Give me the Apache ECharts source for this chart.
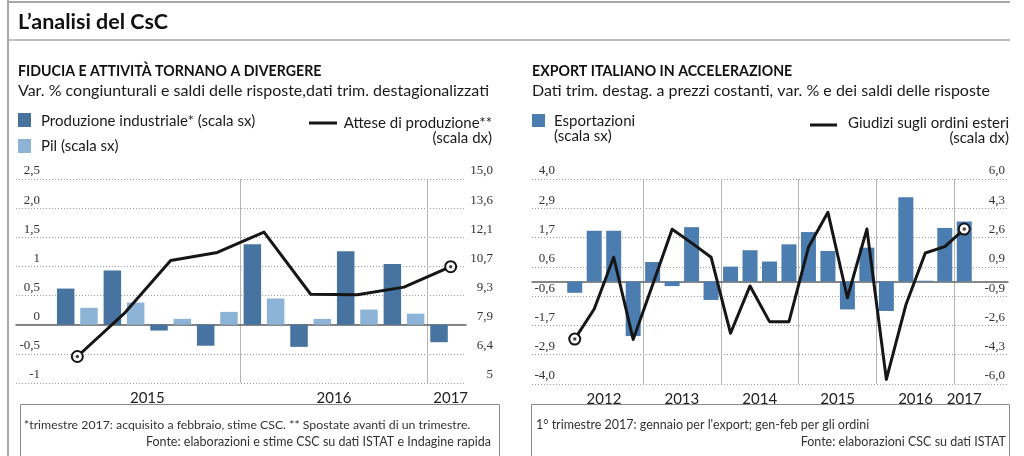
<!DOCTYPE html>
<html><head><meta charset="utf-8">
<script src="https://cdn.jsdelivr.net/npm/echarts@6/dist/echarts.min.js"></script>
<style>html,body{margin:0;padding:0;background:#fff}#c{width:1024px;height:456px}</style>
</head><body><div id="c"></div>
<script>
// ---------- DATA ----------
const leftCategories = ['T1 2015','T2 2015','T3 2015','T4 2015','T1 2016','T2 2016','T3 2016','T4 2016','T1 2017'];
const produzioneIndustriale = [0.62, 0.93, -0.10, -0.36, 1.38, -0.38, 1.26, 1.04, -0.30];
const pil = [0.29, 0.38, 0.10, 0.22, 0.45, 0.10, 0.26, 0.19, null];
const atteseProduzione = [6.3, 8.4, 11.0, 11.4, 12.4, 9.35, 9.33, 9.7, 10.7];
const leftPanelLeftTicks = ['-1','-0,5','0','0,5','1','1,5','2,0','2,5'];
const leftPanelRightTicks = ['5','6,4','7,9','9,3','10,7','12,1','13,6','15,0'];

const rightCategories = ['T1 2012','T2 2012','T3 2012','T4 2012','T1 2013','T2 2013','T3 2013','T4 2013',
  'T1 2014','T2 2014','T3 2014','T4 2014','T1 2015','T2 2015','T3 2015','T4 2015',
  'T1 2016','T2 2016','T3 2016','T4 2016','T1 2017'];
const esportazioni = [-0.44, 1.98, 1.98, -2.13, 0.76, -0.18, 2.12, -0.72, 0.58, 1.22, 0.78, 1.45,
  1.93, 1.19, -1.09, 1.32, -1.15, 3.29, 0.03, 2.09, 2.34];
const giudiziOrdiniEsteri = [-3.37, -1.61, 1.42, -3.39, -0.19, 3.06, 2.26, 1.42, -3.03, -0.26, -2.35, -2.35,
  2.0, 4.05, -0.95, 3.07, -5.73, -1.38, 1.67, 2.04, 3.07];
const rightPanelLeftTicks = ['-4,0','-2,9','-1,7','-0,6','0,6','1,7','2,9','4,0'];
const rightPanelRightTicks = ['-6,0','-4,3','-2,6','-0,9','0,9','2,6','4,3','6,0'];

// ---------- HELPERS ----------
const SANS = 'Lato';
const SERIF = '"Liberation Serif"';
const DARK = '#46739f', LIGHT = '#8db3d6', EXP = '#4b7db0', INK = '#161616';

function tickFmt(labels, min, max) {
  const step = (max - min) / (labels.length - 1);
  return v => { const i = Math.round((v - min) / step); return labels[i] !== undefined ? labels[i] : ''; };
}
const yearOf = c => c.slice(-4);
const quarterOf = c => +c.charAt(1);
function yearFormatter(cats) {
  const counts = {}, first = {};
  cats.forEach((c, i) => { const y = yearOf(c); counts[y] = (counts[y] || 0) + 1; if (first[y] === undefined) first[y] = i; });
  return (value, index) => {
    const y = yearOf(value), n = counts[y], pos = index - first[y];
    if (n % 2 === 0 && pos === n / 2) return '{s|' + y + '}';
    if (n % 2 === 1 && pos === (n - 1) / 2) return '{n|' + y + '}';
    return '';
  };
}
function markEnds(arr) {
  return arr.map((v, i) => (i === 0 || i === arr.length - 1)
    ? { value: v, symbol: 'circle', symbolSize: 11, itemStyle: { color: '#fff', borderColor: INK, borderWidth: 2 } }
    : { value: v, symbol: 'none' });
}
function endDots(arr) { return [[0, arr[0]], [arr.length - 1, arr[arr.length - 1]]]; }

const bgY = { axisLabel: { show: false }, axisLine: { show: false }, axisTick: { show: false },
  splitLine: { show: true, lineStyle: { color: '#9a9a9a', type: [1, 2], width: 1 } } };
const noSplit = { axisLine: { show: false }, axisTick: { show: false }, splitLine: { show: false } };
const labelStyle = { fontFamily: SERIF, fontSize: 13, color: '#333', verticalAlign: 'bottom', lineHeight: 14, padding: [0, 0, 1, 0] };
const bgX = (grid) => ({ type: 'value', gridIndex: grid, min: 0, max: 1, axisLabel: { show: false }, axisTick: { show: false },
  splitLine: { show: false }, axisLine: { show: true, onZero: true, lineStyle: { color: '#606060', width: 1.5 } } });
function catAxis(grid, cats, band) {
  return { type: 'category', gridIndex: grid, data: cats, axisLine: { show: false }, axisTick: { show: false },
    axisLabel: { interval: 0, margin: 8, formatter: yearFormatter(cats),
      rich: { s: { fontFamily: SANS, fontSize: 15, color: '#222', padding: [0, band, 0, 0] },
              n: { fontFamily: SANS, fontSize: 15, color: '#222' } } },
    splitLine: { show: true, showMaxLine: false, interval: (i, v) => i > 0 && quarterOf(v) === 1,
      lineStyle: { color: '#b5b5b5', width: 1, type: 'solid' } } };
}

// ---------- GRAPHICS (text, frame) ----------
function txt(text, x, y, opt) {
  opt = opt || {};
  const align = opt.align || 'left';
  return { type: 'text', x: 0, y: 0, silent: true, style: { text, x, y,
    font: (opt.bold ? 'bold ' : '') + (opt.size || 15) + 'px ' + (opt.family || SANS),
    fill: opt.color || '#1a1a1a', align, textAlign: align, verticalAlign: 'middle', textVerticalAlign: 'middle' } };
}
function hline(x1, x2, y, color, w) { return { type: 'line', silent: true, shape: { x1, y1: y, x2, y2: y }, style: { stroke: color, lineWidth: w } }; }
function vline(x, y1, y2, color, w) { return { type: 'line', silent: true, shape: { x1: x, y1, x2: x, y2 }, style: { stroke: color, lineWidth: w } }; }
function rect(x, y, w, h, fill, stroke) { return { type: 'rect', silent: true, shape: { x, y, width: w, height: h },
  style: stroke ? { fill: 'none', stroke, lineWidth: 1 } : { fill } }; }

const graphics = [
  vline(8, 0, 456, '#a8a8a8', 2),
  hline(8, 1010, 2, '#a8a8a8', 2),
  hline(8, 1010, 40, '#a8a8a8', 1.5),
  txt('L’analisi del CsC', 18, 22, { bold: true, size: 21.5, color: '#111' }),
  // left panel
  txt('FIDUCIA E ATTIVITÀ TORNANO A DIVERGERE', 18, 71, { bold: true, size: 14.2, color: '#111' }),
  txt('Var. % congiunturali e saldi delle risposte,dati trim. destagionalizzati', 18, 90.5, { size: 16 }),
  rect(18, 113, 13, 14, DARK),
  txt('Produzione industriale* (scala sx)', 41, 121, { size: 15 }),
  rect(18, 139, 13, 14, LIGHT),
  txt('Pil (scala sx)', 41, 146, { size: 15 }),
  hline(309, 337, 123, INK, 3),
  txt('Attese di produzione**', 492, 123, { size: 15, align: 'right' }),
  txt('(scala dx)', 492, 138, { size: 15, align: 'right' }),
  // right panel
  txt('EXPORT ITALIANO IN ACCELERAZIONE', 532, 71, { bold: true, size: 14.2, color: '#111' }),
  txt('Dati trim. destag. a prezzi costanti, var. % e dei saldi delle risposte', 532, 90.5, { size: 16 }),
  rect(532, 114, 13, 13, EXP),
  txt('Esportazioni', 554, 121, { size: 15 }),
  txt('(scala sx)', 554, 136, { size: 15 }),
  hline(810, 837, 125, INK, 3),
  txt('Giudizi sugli ordini esteri', 1009, 123, { size: 15, align: 'right' }),
  txt('(scala dx)', 1009, 138, { size: 15, align: 'right' }),
  // footers
  rect(20.5, 404.5, 479, 70, null, '#8a8a8a'),
  txt('*trimestre 2017: acquisito a febbraio, stime CSC. ** Spostate avanti di un trimestre.', 24, 425, { size: 12.3, color: '#333' }),
  txt('Fonte: elaborazioni e stime CSC su dati ISTAT e Indagine rapida', 491, 442, { size: 12.5, color: '#333', align: 'right' }),
  rect(531.5, 404.5, 478, 70, null, '#8a8a8a'),
  txt('1° trimestre 2017: gennaio per l\'export; gen-feb per gli ordini', 536, 425, { size: 12.5, color: '#333' }),
  txt('Fonte: elaborazioni CSC su dati ISTAT', 1006, 442, { size: 12.5, color: '#333', align: 'right' })
];

// ---------- CHART ----------
const chart = echarts.init(document.getElementById('c'), null, { renderer: 'canvas' });
const L = { min: -1, max: 2.5 }, LR = { min: 5, max: 15 }, R = { min: -4, max: 4 }, RR = { min: -6, max: 6 };
const option = {
  animation: false,
  backgroundColor: '#fff',
  graphic: graphics,
  grid: [
    { left: 16, top: 179, width: 450, height: 204, outerBoundsMode: 'none', containLabel: false },
    { left: 54, top: 179, width: 420, height: 204, outerBoundsMode: 'none', containLabel: false },
    { left: 532, top: 179, width: 476, height: 205, outerBoundsMode: 'none', containLabel: false },
    { left: 565, top: 179, width: 409, height: 205, outerBoundsMode: 'none', containLabel: false }
  ],
  xAxis: [ bgX(0), catAxis(1, leftCategories, 420 / leftCategories.length), bgX(2), catAxis(3, rightCategories, 409 / rightCategories.length) ],
  yAxis: [
    Object.assign({ type: 'value', gridIndex: 0, min: L.min, max: L.max, interval: 0.5 }, bgY),
    Object.assign({ type: 'value', gridIndex: 1, min: L.min, max: L.max, interval: 0.5, position: 'left',
      axisLabel: Object.assign({ margin: 14, formatter: tickFmt(leftPanelLeftTicks, L.min, L.max) }, labelStyle) }, noSplit),
    Object.assign({ type: 'value', gridIndex: 1, min: LR.min, max: LR.max, alignTicks: true, position: 'right',
      axisLabel: Object.assign({ margin: 19, align: 'right', formatter: tickFmt(leftPanelRightTicks, LR.min, LR.max) }, labelStyle) }, noSplit),
    Object.assign({ type: 'value', gridIndex: 2, min: R.min, max: R.max, alignTicks: true }, bgY),
    { type: 'value', gridIndex: 2, min: 0, max: 7, interval: 1, show: false },
    Object.assign({ type: 'value', gridIndex: 3, min: R.min, max: R.max, alignTicks: true, position: 'left',
      axisLabel: Object.assign({ margin: 10, formatter: tickFmt(rightPanelLeftTicks, R.min, R.max) }, labelStyle) }, noSplit),
    Object.assign({ type: 'value', gridIndex: 3, min: RR.min, max: RR.max, alignTicks: true, position: 'right',
      axisLabel: Object.assign({ margin: 31, align: 'right', formatter: tickFmt(rightPanelRightTicks, RR.min, RR.max) }, labelStyle) }, noSplit),
    { type: 'value', gridIndex: 3, min: 0, max: 7, interval: 1, show: false, position: 'left' }
  ],
  series: [
    { type: 'bar', name: 'Produzione industriale* (scala sx)', xAxisIndex: 1, yAxisIndex: 1, data: produzioneIndustriale,
      barWidth: 17.5, barGap: '33%', itemStyle: { color: DARK } },
    { type: 'bar', name: 'Pil (scala sx)', xAxisIndex: 1, yAxisIndex: 1, data: pil,
      barWidth: 17.5, barGap: '33%', itemStyle: { color: LIGHT } },
    { type: 'line', name: 'Attese di produzione**', xAxisIndex: 1, yAxisIndex: 2, data: markEnds(atteseProduzione), z: 5,
      lineStyle: { color: INK, width: 3, join: 'round' }, itemStyle: { color: INK } },
    { type: 'scatter', xAxisIndex: 1, yAxisIndex: 2, data: endDots(atteseProduzione), symbolSize: 3.5, z: 6, itemStyle: { color: INK } },
    { type: 'bar', name: 'Esportazioni', xAxisIndex: 3, yAxisIndex: 5, data: esportazioni,
      barWidth: 15, itemStyle: { color: EXP } },
    { type: 'line', name: 'Giudizi sugli ordini esteri', xAxisIndex: 3, yAxisIndex: 6, data: markEnds(giudiziOrdiniEsteri), z: 5,
      lineStyle: { color: INK, width: 3, join: 'round' }, itemStyle: { color: INK } },
    { type: 'scatter', xAxisIndex: 3, yAxisIndex: 6, data: endDots(giudiziOrdiniEsteri), symbolSize: 3.5, z: 6, itemStyle: { color: INK } }
  ]
};
chart.setOption(option);
</script>
</body></html>
